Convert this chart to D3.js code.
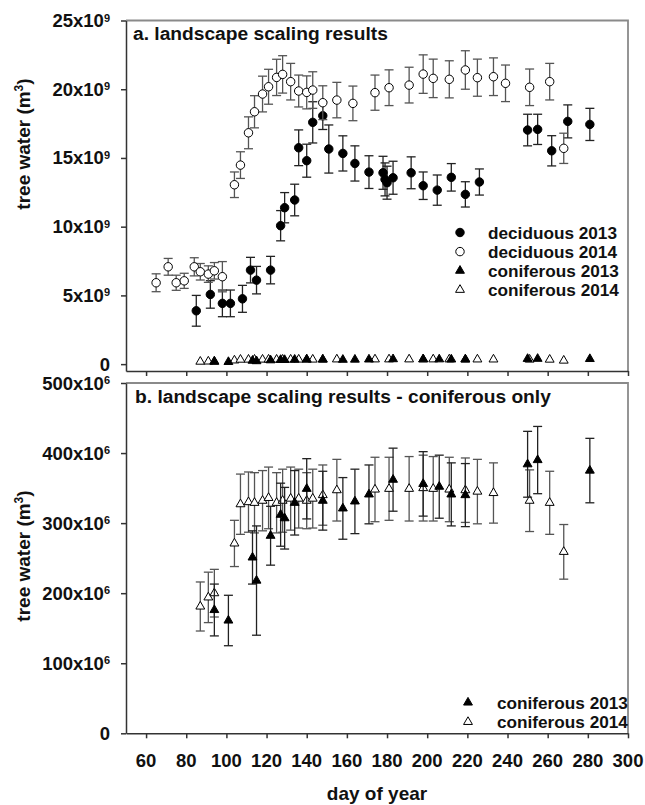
<!DOCTYPE html>
<html>
<head>
<meta charset="utf-8">
<script src="https://cdn.jsdelivr.net/npm/d3@7"></script>
<style>
  body { margin: 0; background: #fff; }
  svg text { font-family: "Liberation Sans", Arial, sans-serif; font-weight: bold; fill: #111; }
</style>
</head>
<body>
<svg id="chart" width="645" height="805"></svg>
<script>
// tree water, [day, value, error]; deciduous in 10^9 m3, coniferous in 10^6 m3
const decid2013 = [
  [85, 3.88, 1.12], [92, 5.07, 1.0], [98, 4.42, 0.97], [102, 4.42, 0.97], [108, 4.75, 0.98],
  [112, 6.84, 0.93], [115, 6.11, 1.0], [122, 6.84, 1.0], [127, 10.07, 1.1], [129, 11.38, 1.1],
  [134, 11.94, 1.15], [136, 15.74, 1.3], [140, 14.8, 1.2], [143, 17.59, 1.5], [148, 18.07, 1.0],
  [151, 15.65, 1.75], [158, 15.33, 1.28], [164, 14.6, 1.28], [171, 13.97, 1.19], [178, 13.92, 1.2],
  [179, 13.44, 1.2], [180, 13.2, 1.2], [183, 13.56, 1.2], [192, 13.92, 1.16], [198, 12.98, 1.0],
  [205, 12.66, 1.1], [212, 13.59, 1.0], [219, 12.35, 0.92], [226, 13.25, 0.95], [250, 17.03, 1.15],
  [255, 17.08, 1.1], [262, 15.52, 1.1], [270, 17.66, 1.2], [281, 17.44, 1.17]
];
const decid2014 = [
  [65, 5.92, 0.65], [71, 7.08, 0.61], [75, 5.92, 0.55], [79, 6.06, 0.55], [84, 7.08, 0.66],
  [87, 6.72, 0.6], [91, 6.55, 0.6], [94, 6.79, 0.6], [98, 6.36, 1.1], [104, 13.05, 0.93],
  [107, 14.48, 0.97], [111, 16.83, 1.16], [114, 18.36, 1.17], [118, 19.65, 1.3], [121, 20.18, 1.27],
  [125, 20.86, 1.32], [128, 21.08, 1.36], [132, 20.55, 1.33], [136, 19.87, 1.16], [140, 19.77, 1.2],
  [143, 19.94, 1.33], [148, 19.02, 1.23], [155, 19.21, 1.29], [163, 18.97, 1.26], [174, 19.75, 1.28],
  [181, 20.11, 1.3], [191, 20.3, 1.3], [198, 21.1, 1.4], [203, 20.79, 1.4], [211, 20.72, 1.35],
  [219, 21.4, 1.4], [225, 20.84, 1.35], [233, 20.91, 1.37], [239, 20.43, 1.33], [251, 20.14, 1.33],
  [261, 20.55, 1.33], [268, 15.7, 1.1]
];
const conif2013 = [
  [94, 176, 37], [101, 161, 36], [113, 251, 38], [115, 218, 78], [122, 282, 42], [127, 312, 45],
  [129, 307, 44], [134, 329, 46], [140, 349, 43], [148, 332, 42], [158, 321, 44], [164, 331, 46],
  [171, 341, 42], [183, 362, 45], [198, 356, 46], [206, 352, 45], [212, 341, 45], [219, 340, 45],
  [250, 384, 47], [255, 390, 48], [281, 375, 46]
];
const conif2014 = [
  [87, 181, 35], [91, 194, 36], [94, 200, 34], [104, 271, 33], [107, 327, 43], [111, 330, 43],
  [114, 329, 43], [118, 332, 43], [121, 336, 44], [125, 329, 43], [128, 332, 45], [132, 335, 45],
  [136, 335, 42], [140, 332, 40], [143, 335, 42], [148, 340, 43], [155, 347, 44], [174, 348, 46],
  [181, 349, 45], [191, 349, 46], [198, 350, 47], [203, 349, 46], [211, 348, 46], [219, 347, 46],
  [225, 345, 46], [233, 343, 43], [251, 332, 44], [261, 329, 45], [268, 259, 39]
];

const xTicks = [60, 80, 100, 120, 140, 160, 180, 200, 220, 240, 260, 280, 300];
const yTicksA = [0, 5, 10, 15, 20, 25];
const yTicksB = [0, 100, 200, 300, 400, 500];

const svg = d3.select("#chart");
const x = d3.scaleLinear().domain([50, 300]).range([126, 628]);
const yA = d3.scaleLinear().domain([-0.5, 25]).range([371, 20.5]);
const yB = d3.scaleLinear().domain([0, 500]).range([733.3, 383]);

const circle = d3.symbol().type(d3.symbolCircle).size(56);
const tri = d3.symbol().type(d3.symbolTriangle).size(34);

function frame(y, top, bottom, ticks, exp, labelY) {
  // top / right border
  svg.append("path")
    .attr("d", `M126,${top}H628V${bottom}`)
    .attr("fill", "none").attr("stroke", "#8a8a8a").attr("stroke-width", 1.8);

  const ax = svg.append("g").attr("transform", `translate(0,${bottom})`)
    .call(d3.axisBottom(x).tickValues(xTicks).tickSize(5).tickSizeOuter(0).tickFormat(""));
  const ay = svg.append("g").attr("transform", "translate(126,0)")
    .call(d3.axisLeft(y).tickValues(ticks).tickSize(5).tickSizeOuter(0).tickFormat(""));
  [ax, ay].forEach(g => {
    g.selectAll("path, line").attr("stroke", "#333").attr("stroke-width", 1.5);
  });

  const lab = svg.append("g").selectAll("text").data(ticks).join("text")
    .attr("x", 110).attr("y", d => y(d) + 6.5)
    .attr("text-anchor", "end").attr("font-size", 18.5);
  lab.append("tspan").text(d => d === 0 ? "0" : `${d}x10`);
  lab.filter(d => d !== 0).append("tspan")
    .attr("font-size", 11).attr("dy", -5.5).text(exp);

  const t = svg.append("text")
    .attr("transform", `translate(30,${labelY}) rotate(-90)`)
    .attr("text-anchor", "middle").attr("font-size", 19);
  t.append("tspan").text("tree water (m");
  t.append("tspan").attr("font-size", 12).attr("dy", -7).text("3");
  t.append("tspan").attr("dy", 7).text(")");
}

function series(y, data, shape, filled, barColor, scale, bars) {
  const g = svg.append("g");
  if (bars) {
    const b = g.selectAll("g.bar").data(data).join("g")
      .attr("stroke", barColor).attr("stroke-width", 1.3);
    b.append("line")
      .attr("x1", d => x(d[0])).attr("x2", d => x(d[0]))
      .attr("y1", d => y((d[1] - d[2]) * scale)).attr("y2", d => y((d[1] + d[2]) * scale));
    [-1, 1].forEach(s => {
      b.append("line")
        .attr("x1", d => x(d[0]) - 4.5).attr("x2", d => x(d[0]) + 4.5)
        .attr("y1", d => y((d[1] + s * d[2]) * scale)).attr("y2", d => y((d[1] + s * d[2]) * scale));
    });
  }
  g.selectAll("path.pt").data(data).join("path")
    .attr("class", "pt")
    .attr("d", shape)
    .attr("transform", d => `translate(${x(d[0])},${y(d[1] * scale)})`)
    .attr("fill", filled ? "#000" : "#fff")
    .attr("stroke", "#000").attr("stroke-width", 1);
}

function legend(items, lx, tx, y0, dy) {
  const g = svg.append("g");
  items.forEach((it, i) => {
    g.append("path").attr("d", it[1])
      .attr("transform", `translate(${lx},${y0 + i * dy})`)
      .attr("fill", it[2] ? "#000" : "#fff").attr("stroke", "#000").attr("stroke-width", 1);
    g.append("text").attr("x", tx).attr("y", y0 + i * dy + 6)
      .attr("font-size", 17.2).text(it[0]);
  });
}

// panel a
frame(yA, 20.5, 371, yTicksA, "9", 144);
series(yA, conif2014, tri, false, "#555", 0.001, false);
series(yA, conif2013, tri, true, "#222", 0.001, false);
series(yA, decid2013, circle, true, "#222", 1, true);
series(yA, decid2014, circle, false, "#555", 1, true);
svg.append("text").attr("x", 133).attr("y", 40).attr("font-size", 19.2)
  .text("a. landscape scaling results");
legend([
  ["deciduous 2013", circle, true],
  ["deciduous 2014", circle, false],
  ["coniferous 2013", tri, true],
  ["coniferous 2014", tri, false]
], 460, 488, 232.5, 19.1);

// panel b
frame(yB, 383, 733.3, yTicksB, "6", 556);
series(yB, conif2014, tri, false, "#555", 1, true);
series(yB, conif2013, tri, true, "#222", 1, true);
svg.append("text").attr("x", 135).attr("y", 403).attr("font-size", 19.2)
  .text("b. landscape scaling results - coniferous only");
legend([
  ["coniferous 2013", tri, true],
  ["coniferous 2014", tri, false]
], 468, 497, 702.5, 19.4);

// x tick labels + title
svg.append("g").selectAll("text").data(xTicks).join("text")
  .attr("x", d => x(d)).attr("y", 767)
  .attr("text-anchor", "middle").attr("font-size", 18.5)
  .text(d => d);
svg.append("text").attr("x", 377).attr("y", 800)
  .attr("text-anchor", "middle").attr("font-size", 19)
  .text("day of year");
</script>
</body>
</html>
